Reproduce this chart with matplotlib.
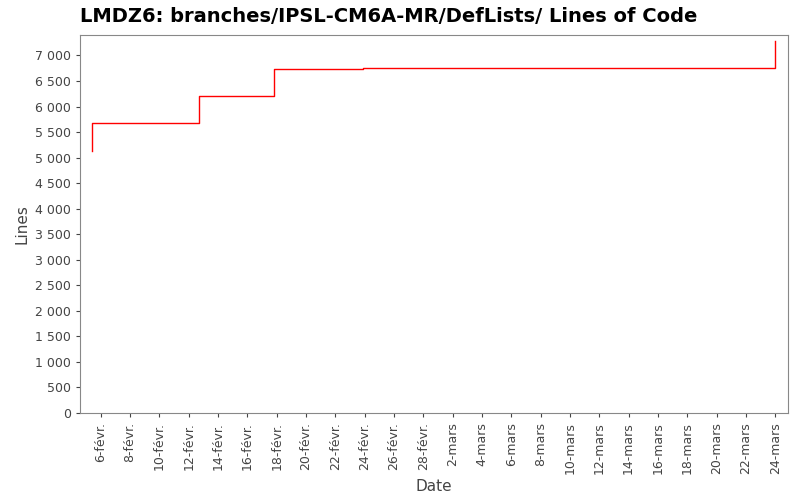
import datetime as dt
import matplotlib
matplotlib.use("Agg")
import matplotlib.pyplot as plt
import matplotlib.dates as mdates
from matplotlib.ticker import FuncFormatter, MultipleLocator

# step data
dates = [dt.datetime(2018, 2, 5, 9), dt.datetime(2018, 2, 5, 9, 30),
         dt.datetime(2018, 2, 12, 17), dt.datetime(2018, 2, 17, 20),
         dt.datetime(2018, 2, 23, 22), dt.datetime(2018, 3, 23, 22),
         dt.datetime(2018, 3, 23, 23)]
lines = [5120, 5670, 6200, 6740, 6760, 6760, 7290]

mois = {2: "févr.", 3: "mars"}

fig = plt.figure(figsize=(8, 5), dpi=100)
ax = fig.add_axes([0.1, 0.174, 0.885, 0.756])
ax.step(dates, lines, where="post", color="red", lw=1)

ax.set_xlim(dt.datetime(2018, 2, 4, 14), dt.datetime(2018, 3, 24, 21))
ax.set_ylim(0, 7400)
ax.xaxis.set_major_locator(mdates.DayLocator(bymonthday=range(2, 32, 2)))
ax.xaxis.set_major_formatter(FuncFormatter(
    lambda v, p: "%d-%s" % (mdates.num2date(v).day, mois[mdates.num2date(v).month])))
ax.yaxis.set_major_locator(MultipleLocator(500))
ax.yaxis.set_major_formatter(FuncFormatter(lambda v, p: f"{int(v):,}".replace(",", " ")))
plt.setp(ax.get_xticklabels(), rotation=90)
ax.tick_params(labelsize=9, colors="#444444", length=3)
for s in ax.spines.values():
    s.set_color("#888888")

ax.set_xlabel("Date", fontsize=11, color="#444444")
ax.set_ylabel("Lines", fontsize=11, color="#444444")
fig.text(0.1, 0.955, "LMDZ6: branches/IPSL-CM6A-MR/DefLists/ Lines of Code",
         fontsize=14, fontweight="bold", ha="left")

fig.savefig("out.png")
